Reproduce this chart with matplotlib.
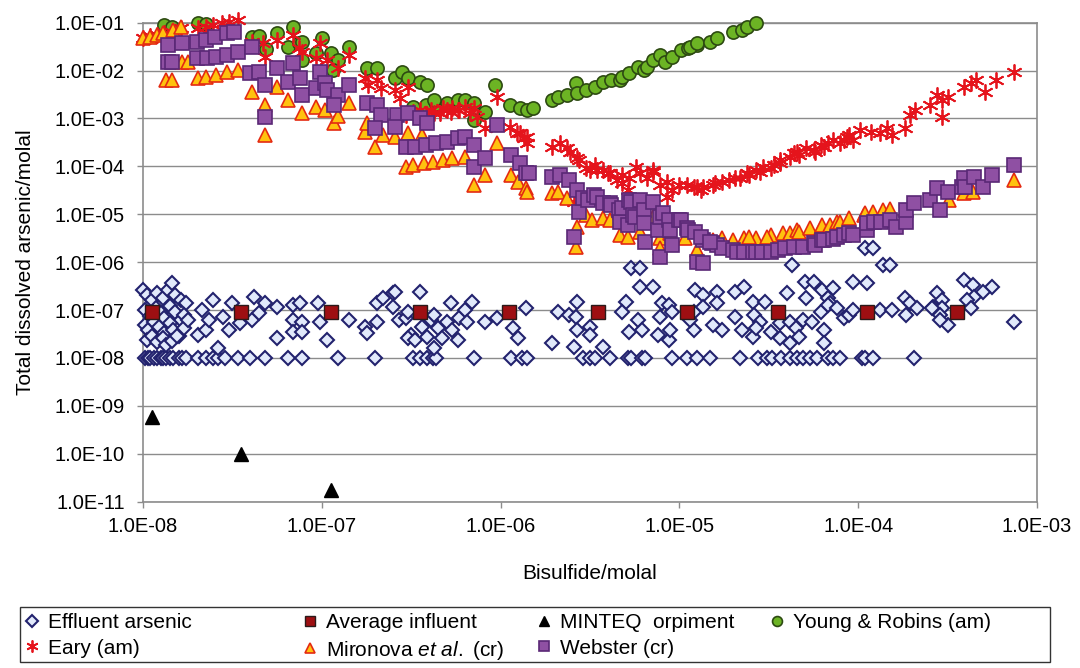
import numpy as np
import matplotlib
matplotlib.use('Agg')
import matplotlib.pyplot as plt
from matplotlib.patches import Rectangle
from matplotlib.ticker import FixedLocator, FuncFormatter, NullLocator

plt.rcParams['font.family'] = ['Liberation Sans', 'DejaVu Sans']
plt.rcParams['mathtext.fontset'] = 'custom'
plt.rcParams['mathtext.rm'] = 'Liberation Sans'
plt.rcParams['mathtext.it'] = 'Liberation Sans:italic'

# values, stored as log10(molal)
# Effluent arsenic
eff_lx = [-7.99, -7.97, -7.96, -7.94, -7.92, -7.90, -7.89, -7.87, -7.85, -7.83, -7.80, -7.78, -7.76,
          -7.69, -7.65, -7.61, -7.58, -7.54, -7.47, -7.40, -7.32, -7.19, -7.11, -6.91, -6.70, -6.49,
          -6.45, -6.41, -6.38, -6.36, -6.15, -5.94, -5.88, -5.85, -5.54, -5.50, -5.47, -5.39, -5.29,
          -5.27, -5.21, -5.19, -5.04, -4.96, -4.90, -4.83, -4.66, -4.56, -4.51, -4.48, -4.43, -4.38,
          -4.34, -4.31, -4.27, -4.23, -4.17, -4.14, -4.10, -3.98, -3.96, -3.92, -3.69,
          -8.00, -7.98, -7.95, -7.92, -7.89, -7.86, -7.84, -7.82, -7.79, -7.76,
          -7.99, -7.96, -7.93, -7.90, -7.88, -7.85, -7.82, -7.79, -7.77,
          -7.99, -7.97, -7.94, -7.91, -7.88, -7.85, -7.83, -7.80, -7.77, -7.75,
          -7.98, -7.95, -7.92, -7.89, -7.87, -7.84, -7.81,
          -7.69, -7.65, -7.67, -7.63, -7.61, -7.58, -7.55, -7.52, -7.50, -7.46, -7.38, -7.39, -7.35,
          -7.32, -7.25, -7.25, -7.16, -7.16, -7.16, -7.12, -7.11, -7.11, -7.02, -7.01, -6.97, -6.85,
          -6.76, -6.75, -6.69, -6.66, -6.69, -6.60, -6.59, -6.60, -6.57, -6.53, -6.52, -6.45, -6.50,
          -6.52, -6.48, -6.44, -6.41, -6.39, -6.37, -6.37, -6.35, -6.33, -6.30, -6.28, -6.27, -6.24,
          -6.23, -6.20, -6.19, -6.16, -6.09, -6.02, -5.93, -5.90, -5.86, -5.71, -5.68, -5.62, -5.57,
          -5.58, -5.57, -5.59, -5.50, -5.50, -5.43, -5.30, -5.32, -5.28, -5.23, -5.21, -5.27, -5.22,
          -5.22, -5.15, -5.10, -5.06, -5.11, -5.04, -5.12, -5.06, -5.05, -4.91, -4.92, -4.92, -3.96,
          -3.92, -4.37, -3.86, -3.82, -4.87, -4.79, -4.69, -4.64, -4.40, -4.30, -4.25, -4.03, -3.95,
          -4.20, -4.14, -4.29, -4.17, -4.16, -3.41, -3.36, -3.25, -3.30, -3.35, -3.39, -3.56, -3.53,
          -3.58, -3.53, -3.37, -4.87, -4.79, -4.69, -4.59, -4.52, -4.58, -4.55, -4.49, -4.59, -4.65,
          -4.76, -4.81, -4.94, -4.57, -4.44, -4.38, -4.35, -4.33, -4.38, -4.44, -4.31, -4.26, -4.21,
          -4.17, -4.12, -4.08, -4.05, -4.03, -4.19, -4.19, -3.88, -3.81, -3.74, -3.71, -3.67, -3.73,
          -3.59, -3.54, -3.50, -3.54, -3.13]
eff_ly = [-8.00] * 63 + \
         [-6.58, -6.68, -6.79, -6.64, -6.75, -6.58, -6.43, -6.68, -6.79, -6.85,
          -7.00, -7.12, -6.96, -7.06, -7.17, -6.91, -7.04, -7.21, -7.10,
          -7.31, -7.41, -7.25, -7.35, -7.48, -7.27, -7.41, -7.54, -7.37, -7.21,
          -7.62, -7.54, -7.66, -7.58, -7.73, -7.64, -7.54,
          -7.52, -7.41, -7.00, -7.21, -6.79, -7.79, -7.14, -7.41, -6.85, -7.27, -6.73, -7.21, -7.06,
          -6.85, -6.93, -7.58, -6.89, -7.21, -7.46, -6.85, -7.25, -7.46, -6.85, -7.25, -7.62, -7.21,
          -7.35, -7.48, -6.85, -6.75, -7.25, -6.64, -6.62, -6.93, -7.21, -7.17, -7.04, -6.62, -7.52,
          -7.58, -7.62, -7.35, -7.56, -7.21, -7.10, -7.79, -7.37, -7.58, -7.25, -6.85, -7.41, -7.62,
          -7.17, -7.00, -7.25, -6.83, -7.25, -7.17, -7.37, -7.58, -6.96, -7.69, -7.04, -7.10, -6.83,
          -7.14, -7.41, -7.77, -7.35, -7.52, -7.77, -6.83, -7.04, -7.46, -7.21, -7.41, -6.12, -6.12,
          -6.52, -6.52, -6.85, -6.89, -7.14, -7.04, -7.52, -7.62, -7.41, -6.58, -7.41, -7.04, -5.70,
          -5.70, -6.06, -6.06, -6.06, -6.68, -6.62, -6.62, -6.52, -6.64, -6.41, -6.41, -6.41, -6.43,
          -6.58, -6.54, -6.75, -6.75, -6.85, -6.37, -6.47, -6.52, -6.62, -6.73, -6.79, -6.64, -6.79,
          -6.93, -6.96, -6.96, -6.93, -6.85, -7.14, -6.83, -6.83, -7.10, -7.25, -7.46, -7.56, -7.41,
          -7.41, -7.31, -7.21, -7.37, -7.27, -7.25, -7.37, -7.56, -7.69, -7.58, -7.21, -7.25, -7.04,
          -6.89, -6.96, -7.17, -7.10, -7.00, -7.41, -7.69, -7.00, -7.00, -6.75, -6.85, -6.96, -7.10,
          -6.96, -7.10, -7.31, -7.21, -7.25]

# Average influent
avg_x = [1.12e-8, 3.55e-8, 1.12e-7, 3.55e-7, 1.12e-6, 3.5e-6, 1.1e-5, 3.55e-5, 1.12e-4, 3.55e-4]
avg_y = [9.0e-8] * 10

# MINTEQ orpiment
minteq_x = [1.12e-8, 3.55e-8, 1.12e-7]
minteq_y = [5.9e-10, 1.0e-10, 1.75e-11]

# Young & Robins (am)
yr_lx = [-7.88, -7.84, -7.69, -7.65, -7.39, -7.35, -7.31, -7.25, -7.16, -7.19, -7.13, -7.11, -7.11,
         -7.03, -7.00, -6.95, -6.91, -6.94, -6.85, -6.75, -6.69, -6.59, -6.55, -6.52, -6.45, -6.41,
         -6.49, -6.42, -6.36, -6.30, -6.24, -6.20, -6.15, -6.37, -6.15, -6.09, -6.03, -5.95, -5.89,
         -5.85, -5.82,
         -5.71, -5.68, -5.63, -5.58, -5.57, -5.52, -5.47, -5.43, -5.38, -5.33, -5.32, -5.28, -5.23,
         -5.20, -5.18, -5.15, -5.11, -5.08, -5.04, -4.99, -4.95, -4.90, -4.94, -4.90, -4.83, -4.79,
         -4.70, -4.65, -4.62, -4.57]
yr_ly = [-1.05, -1.09, -1.01, -1.03, -1.30, -1.28, -1.55, -1.22, -1.09, -1.51, -1.42, -1.40, -1.78,
         -1.63, -1.32, -1.63, -1.78, -1.99, -1.51, -1.95, -1.95, -2.15, -2.03, -2.15, -2.24, -2.30,
         -2.76, -2.72, -2.70, -2.68, -2.61, -2.61, -2.68, -2.61, -3.03, -2.87, -2.30, -2.72, -2.78,
         -2.82, -2.78,
         -2.61, -2.55, -2.51, -2.26, -2.47, -2.41, -2.34, -2.24, -2.20, -2.20, -2.13, -2.05, -1.92,
         -1.99, -1.92, -1.78, -1.67, -1.82, -1.72, -1.57, -1.53, -1.47, -1.51, -1.42, -1.40, -1.32,
         -1.19, -1.15, -1.09, -1.01]

# Eary (am)
eary_lx = [-8.00, -7.96, -7.92, -7.88, -7.84, -7.79, -7.61, -7.56, -7.52, -7.47, -7.69, -7.65,
           -7.39, -7.33, -7.32, -7.25, -7.16, -7.11, -7.13, -7.01, -7.03, -6.97, -6.91, -6.85, -6.76,
           -6.74, -6.69, -6.67, -6.59, -6.56, -6.52,
           -6.49, -6.45, -6.42, -6.39, -6.37, -6.34, -6.32, -6.30, -6.28, -6.27, -6.24, -6.23, -6.20,
           -6.17, -6.15, -6.13, -6.53,
           -6.09, -6.02, -5.95, -5.91, -5.89, -5.87, -5.85, -5.85, -5.71, -5.67, -5.63, -5.61, -5.57,
           -5.56, -5.52, -5.50, -5.47, -5.46, -5.43, -5.40, -5.39, -5.35, -5.32, -5.32, -5.29, -5.28,
           -5.24, -5.22, -5.18, -5.15, -5.15, -5.11, -5.07, -5.07, -5.04, -5.59, -5.00, -4.96, -4.92,
           -4.90, -4.87, -4.81, -4.76, -4.72, -4.66, -4.62, -4.61, -4.55, -4.53, -4.49, -4.44, -4.44,
           -4.38, -4.36, -4.34, -4.29, -4.25, -4.21, -4.19, -4.14, -4.10, -4.06, -4.03, -3.99, -3.93,
           -3.88, -3.84, -3.81, -3.74, -3.71, -3.68, -3.60, -3.56, -3.53, -3.53, -3.50, -3.41, -3.37,
           -3.34, -3.29, -3.23, -3.13,
           -4.88, -4.80, -4.69, -4.57, -4.47, -4.33, -4.24, -4.17, -4.08, -4.05]
eary_ly = [-1.32, -1.28, -1.26, -1.22, -1.19, -1.11, -1.05, -1.01, -0.99, -0.94, -1.11, -1.09,
           -1.40, -1.42, -1.72, -1.36, -1.26, -1.61, -1.53, -1.42, -1.74, -1.78, -1.95, -1.67, -2.15,
           -2.30, -2.20, -2.36, -2.41, -2.57, -2.34,
           -2.87, -2.82, -2.93, -2.82, -2.89, -2.89, -2.78, -2.82, -2.87, -2.78, -2.82, -2.82, -2.76,
           -2.89, -2.78, -2.97, -2.93,
           -3.20, -2.55, -3.18, -3.30, -3.30, -3.41, -3.51, -3.39, -3.59, -3.51, -3.62, -3.70, -3.82,
           -3.87, -4.03, -4.08, -3.97, -4.08, -4.08, -4.14, -4.14, -4.28, -4.18, -4.35, -4.49, -4.24,
           -4.01, -4.14, -4.24, -4.12, -4.08, -4.39, -4.33, -4.64, -4.49, -4.74, -4.39, -4.39, -4.43,
           -4.43, -4.43, -4.39, -4.33, -4.28, -4.24, -4.14, -4.18, -4.12, -4.01, -4.03, -3.93, -3.87,
           -3.80, -3.72, -3.70, -3.62, -3.66, -3.55, -3.59, -3.45, -3.51, -3.39, -3.45, -3.24, -3.28,
           -3.30, -3.20, -3.34, -3.20, -2.93, -2.82, -2.72, -2.51, -2.61, -2.97, -2.55, -2.34, -2.26,
           -2.20, -2.45, -2.20, -2.03,
           -4.49, -4.35, -4.24, -4.08, -3.97, -3.76, -3.70, -3.51, -3.45, -3.34]

# Mironova et al. (cr)
mir_lx = [-8.00, -7.96, -7.92, -7.89, -7.83, -7.79,
          -7.87, -7.84, -7.78, -7.75, -7.69, -7.65, -7.59, -7.53, -7.47, -7.39, -7.32, -7.32, -7.25,
          -7.19, -7.11, -7.03, -6.98, -6.93, -6.91, -6.85, -6.76, -6.70, -6.75, -6.66, -6.59, -6.52,
          -6.44,
          -6.53, -6.49, -6.43, -6.38, -6.32, -6.27, -6.20, -6.15, -6.09, -6.02, -5.94, -5.90, -5.86,
          -5.85, -5.71, -5.68, -5.63, -5.57, -5.58, -5.52, -5.49, -5.43, -5.39, -5.33, -5.29, -5.22,
          -5.15, -5.11, -5.11, -5.05, -4.90,
          -4.97, -4.70, -4.64, -4.57, -4.49, -4.42, -4.38, -4.34, -4.33, -4.27, -4.21, -4.20, -4.16,
          -4.12, -4.10, -4.05, -3.97, -3.96, -3.92, -3.86, -3.82, -3.49, -3.41, -3.36, -3.13,
          -4.81, -4.76, -4.61, -4.51]
mir_ly = [-1.32, -1.30, -1.26, -1.22, -1.15, -1.09,
          -2.20, -2.20, -1.82, -1.82, -2.15, -2.13, -2.09, -2.03, -1.99, -2.45, -2.72, -3.34, -2.34,
          -2.61, -2.89, -2.76, -2.82, -3.09, -2.95, -2.68, -3.28, -3.59, -3.09, -3.34, -3.39, -3.30,
          -3.34,
          -4.01, -3.97, -3.93, -3.91, -3.87, -3.82, -3.80, -4.39, -4.18, -3.51, -4.18, -4.33, -4.45,
          -4.53, -4.56, -4.53, -4.66, -5.27, -5.68, -5.01, -5.12, -5.08, -5.12, -5.43, -5.47, -5.37,
          -5.06, -5.49, -5.70, -5.39, -5.75,
          -5.49, -5.53, -5.49, -5.49, -5.43, -5.39, -5.39, -5.33, -5.37, -5.29, -5.29, -5.22, -5.22,
          -5.16, -5.16, -5.08, -5.01, -4.97, -4.95, -4.91, -4.89, -4.70, -4.56, -4.53, -4.28,
          -5.53, -5.49, -5.47, -5.47]

# Webster (cr)
web_lx = [-7.86, -7.78, -7.70, -7.65, -7.60, -7.53, -7.49, -7.86, -7.84, -7.70, -7.64, -7.59,
          -7.53, -7.47, -7.39, -7.40, -7.35, -7.32, -7.25, -7.32, -7.19, -7.16, -7.12, -7.11, -7.03,
          -7.01, -6.98, -6.97, -6.91, -6.93, -6.85, -6.75, -6.69, -6.67, -6.70, -6.58, -6.59, -6.52,
          -6.45, -6.41, -6.53, -6.48, -6.42, -6.36, -6.30, -6.24, -6.20, -6.15, -6.15, -6.09, -6.02,
          -5.94, -5.89, -5.86, -5.84, -5.71, -5.67, -5.62, -5.57, -5.56, -5.59, -5.54, -5.51, -5.48,
          -5.46, -5.43, -5.39, -5.38, -5.34, -5.33, -5.32, -5.29, -5.28, -5.27, -5.26, -5.25, -5.22,
          -5.20, -5.20, -5.19, -5.15, -5.12, -5.11, -5.11, -5.09, -5.06, -5.05, -5.04, -5.00, -4.99,
          -4.96, -4.95, -4.91, -4.90, -4.87, -4.87, -4.82, -4.79, -4.76, -4.70, -4.68, -4.64, -4.59,
          -4.57, -4.54, -4.49, -4.45, -4.41, -4.36, -4.31, -4.25, -4.24, -4.20, -4.19, -4.14, -4.12,
          -4.08, -4.05, -4.03, -3.95, -3.95, -3.91, -3.87, -3.82, -3.79, -3.73, -3.73, -3.69, -3.60,
          -3.56, -3.54, -3.50, -3.42, -3.41, -3.40, -3.35, -3.30, -3.25, -3.13, -4.88, -4.83]
web_ly = [-1.47, -1.42, -1.40, -1.36, -1.30, -1.22, -1.19, -1.82, -1.82, -1.74, -1.74, -1.72,
          -1.67, -1.61, -1.51, -2.05, -2.03, -2.30, -1.95, -2.97, -2.24, -1.84, -2.15, -2.51, -2.36,
          -2.03, -2.26, -2.41, -2.51, -2.72, -2.30, -2.68, -2.72, -2.93, -3.20, -2.93, -3.18, -2.89,
          -2.99, -3.09, -3.59, -3.59, -3.55, -3.51, -3.49, -3.41, -3.39, -3.55, -4.01, -3.82, -3.14,
          -3.76, -3.93, -4.14, -4.14, -4.22, -4.18, -4.28, -4.49, -4.95, -5.47, -4.66, -4.70, -4.60,
          -4.64, -4.76, -4.76, -4.81, -4.91, -5.16, -4.87, -5.22, -4.70, -4.74, -5.01, -5.06, -4.70,
          -4.91, -5.18, -5.58, -4.74, -5.33, -5.06, -5.89, -4.97, -5.12, -5.33, -5.64, -5.12, -5.12,
          -5.29, -5.33, -5.37, -6.00, -6.02, -5.53, -5.60, -5.64, -5.70, -5.75, -5.79, -5.79, -5.79,
          -5.79, -5.79, -5.79, -5.75, -5.70, -5.68, -5.68, -5.60, -5.64, -5.53, -5.53, -5.51, -5.47,
          -5.43, -5.39, -5.43, -5.33, -5.18, -5.16, -5.16, -5.12, -5.27, -5.16, -4.91, -4.76, -4.70,
          -4.45, -4.91, -4.53, -4.43, -4.24, -4.43, -4.22, -4.43, -4.18, -3.97, -5.47, -5.58]


def tolin(v):
    return 10.0 ** np.array(v)


fig = plt.figure(figsize=(10.8, 6.68), dpi=100)
ax = fig.add_axes([143 / 1080, 1 - 501.7 / 668, 894 / 1080, 479 / 668])

grey = '#8c8c8c'
common = dict(linestyle='none', clip_on=False)

h_eff, = ax.plot(tolin(eff_lx), tolin(eff_ly), marker='D', ms=7.5, mfc='#e1e9fb', mec='#22226e',
                 mew=1.5, label='Effluent arsenic', zorder=3, **common)
h_avg, = ax.plot(avg_x, avg_y, marker='s', ms=9.5, mfc='#9e0f12', mec='#2a1a1a', mew=1.0,
                 label='Average influent', zorder=4, **common)
h_min, = ax.plot(minteq_x, minteq_y, marker='^', ms=10.5, color='black',
                 label='MINTEQ  orpiment', zorder=5, **common)
h_yr, = ax.plot(tolin(yr_lx), tolin(yr_ly), marker='o', ms=9.5, mfc='#6cb424', mec='#2d4a12', mew=1.2,
                label='Young & Robins (am)', zorder=6, **common)
h_eary, = ax.plot(tolin(eary_lx), tolin(eary_ly), marker=(6, 2, 0), ms=11.5, color='#e5141c', mew=1.3,
                  label='Eary (am)', zorder=7, **common)
h_mir, = ax.plot(tolin(mir_lx), tolin(mir_ly), marker='^', ms=9.5, mfc='#ffc20e', mec='#e42a12', mew=1.2,
                 label=r'Mironova $\mathit{et\ al.}$ (cr)', zorder=8, **common)
h_web, = ax.plot(tolin(web_lx), tolin(web_ly), marker='s', ms=9.5, mfc='#8f50a3', mec='#5a2876', mew=1.2,
                 label='Webster (cr)', zorder=9, **common)

ax.set_xscale('log')
ax.set_yscale('log')
ax.set_xlim(1e-8, 1e-3)
ax.set_ylim(1e-11, 1e-1)

fmt = FuncFormatter(lambda v, p: f'{v:.1E}')
ax.xaxis.set_major_locator(FixedLocator([10.0 ** k for k in range(-8, -2)]))
ax.yaxis.set_major_locator(FixedLocator([10.0 ** k for k in range(-11, 0)]))
ax.xaxis.set_minor_locator(NullLocator())
ax.yaxis.set_minor_locator(NullLocator())
ax.xaxis.set_major_formatter(fmt)
ax.yaxis.set_major_formatter(fmt)
ax.tick_params(axis='both', direction='out', length=4, width=1, color=grey, labelsize=14.5,
               labelcolor='black')
ax.tick_params(axis='y', pad=9)
ax.tick_params(axis='x', pad=7)

ax.yaxis.grid(True, color=grey, linewidth=1)
ax.set_axisbelow(True)
for s in ax.spines.values():
    s.set_color(grey)
    s.set_linewidth(1.2)

ax.set_xlabel('Bisulfide/molal', fontsize=15, labelpad=20)
ax.set_ylabel('Total dissolved arsenic/molal', fontsize=15, labelpad=14)

# legend: four columns with fixed positions inside one outer box
columns = [[h_eff, h_eary], [h_avg, h_mir], [h_min, h_web], [h_yr]]
col_left = [22, 300, 534, 767]
for hs, xl in zip(columns, col_left):
    lg = fig.legend(hs, [h.get_label() for h in hs], loc='upper left',
                    bbox_to_anchor=(xl / 1080, 1 - 613 / 668), bbox_transform=fig.transFigure,
                    fontsize=15, frameon=False, handlelength=1.0, handletextpad=0.25,
                    borderpad=0, borderaxespad=0, labelspacing=0.32, markerscale=0.75)
fig.add_artist(Rectangle((20 / 1080, 1 - 662 / 668), 1030 / 1080, 55 / 668,
                         transform=fig.transFigure, fill=False, edgecolor='#333333', linewidth=1.0))

fig.savefig('out.png', dpi=100)
